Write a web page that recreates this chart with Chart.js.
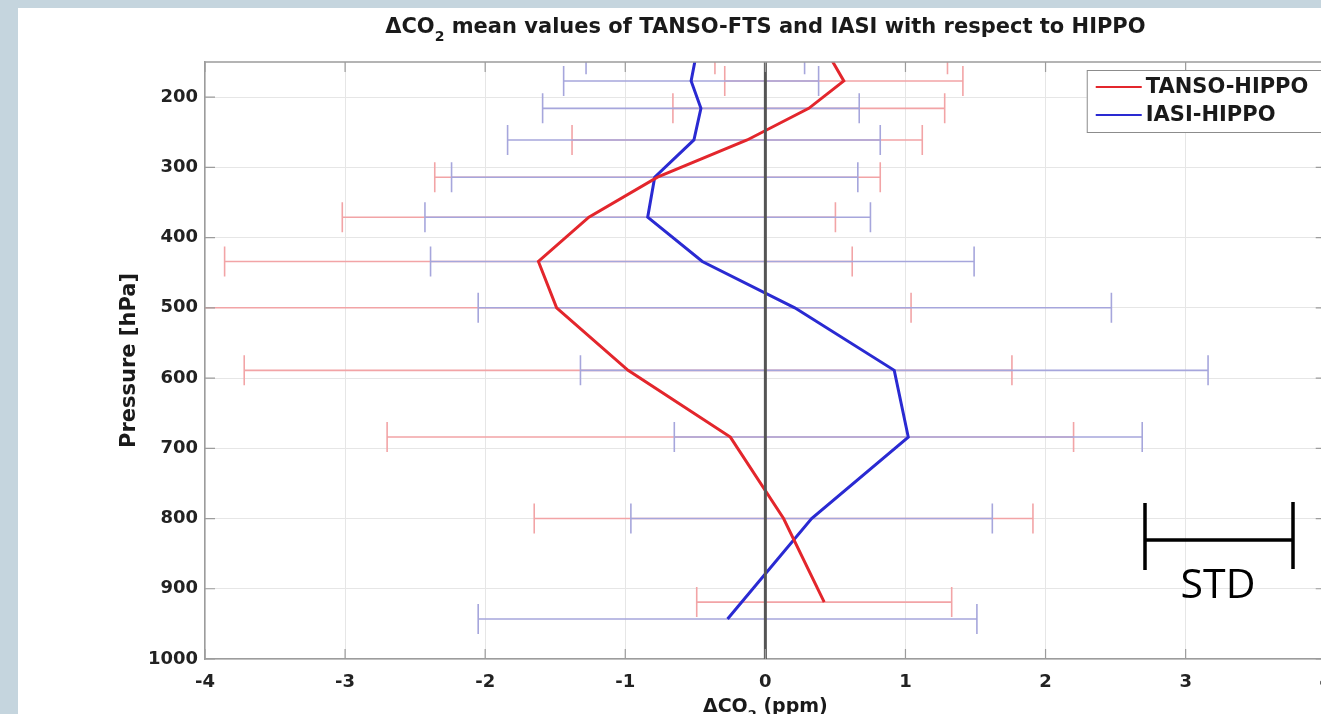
<!DOCTYPE html>
<html><head><meta charset="utf-8">
<script src="https://cdn.jsdelivr.net/npm/chart.js@4/dist/chart.umd.min.js"></script>
<style>
html,body{margin:0;padding:0;overflow:hidden;width:1321px;height:714px;background:#c5d5de}
canvas{position:absolute;left:0;top:0}
</style>
</head><body>
<canvas id="c" width="1345" height="714"></canvas>
<script>
// ---- data ----
const seriesNames = ['TANSO-HIPPO', 'IASI-HIPPO'];
const tansoPressure = [146, 177, 216, 261, 314, 371, 434, 500, 589, 684, 800, 919];
const tansoMean     = [0.47, 0.56, 0.31, -0.13, -0.77, -1.26, -1.62, -1.49, -0.98, -0.25, 0.13, 0.42];
const tansoStd      = [0.83, 0.85, 0.97, 1.25, 1.59, 1.76, 2.24, 2.53, 2.74, 2.45, 1.78, 0.91];
const iasiPressure  = [146, 177, 216, 261, 314, 371, 434, 500, 589, 684, 800, 943];
const iasiMean      = [-0.50, -0.53, -0.46, -0.51, -0.79, -0.84, -0.45, 0.21, 0.92, 1.02, 0.33, -0.27];
const iasiStd       = [0.78, 0.91, 1.13, 1.33, 1.45, 1.59, 1.94, 2.26, 2.24, 1.67, 1.29, 1.78];
const zeroLineX     = [0, 0];
const zeroLineP     = [150, 1000];
const xTicks = [-4, -3, -2, -1, 0, 1, 2, 3, 4];
const yTicks = [200, 300, 400, 500, 600, 700, 800, 900, 1000];
const titleMain = 'ΔCO';
const titleSub = '2';
const titleRest = ' mean values of TANSO-FTS and IASI with respect to HIPPO';
const xTitleMain = 'ΔCO';
const xTitleSub = '2';
const xTitleRest = ' (ppm)';
const yTitle = 'Pressure [hPa]';
const stdLabel = 'STD';

const RED = '#e3262c', BLUE = '#2a2ad2';
const RED_BAR = '#f2a4a6', BLUE_BAR = '#a6a6dc';

const bgPlugin = {
  id: 'bg',
  beforeDraw(chart) {
    const c = chart.ctx;
    c.save();
    c.fillStyle = '#c5d5de';
    c.fillRect(0, 0, chart.width, chart.height);
    c.fillStyle = '#ffffff';
    c.fillRect(18, 8, chart.width - 18, chart.height - 8);
    c.restore();
  }
};

const errPlugin = {
  id: 'errbars',
  beforeDatasetsDraw(chart) {
    const c = chart.ctx, xs = chart.scales.x, ys = chart.scales.y, ca = chart.chartArea;
    c.save();
    c.beginPath();
    c.rect(ca.left, ca.top, ca.right - ca.left, ca.bottom - ca.top);
    c.clip();
    const draw = (P, M, S, col) => {
      c.strokeStyle = col;
      c.lineWidth = 1.6;
      for (let i = 0; i < P.length; i++) {
        const y = ys.getPixelForValue(P[i]);
        const x1 = xs.getPixelForValue(M[i] - S[i]);
        const x2 = xs.getPixelForValue(M[i] + S[i]);
        c.beginPath();
        c.moveTo(x1, y); c.lineTo(x2, y);
        c.moveTo(x1, y - 15); c.lineTo(x1, y + 15);
        c.moveTo(x2, y - 15); c.lineTo(x2, y + 15);
        c.stroke();
      }
    };
    draw(tansoPressure, tansoMean, tansoStd, RED_BAR);
    draw(iasiPressure, iasiMean, iasiStd, BLUE_BAR);
    c.restore();
  }
};

const decorPlugin = {
  id: 'decor',
  afterDraw(chart) {
    const c = chart.ctx, xs = chart.scales.x, ys = chart.scales.y, ca = chart.chartArea;
    const cx = (ca.left + ca.right) / 2;
    c.save();
    // top/right axis lines and inward ticks
    c.strokeStyle = '#9c9c9c';
    c.lineWidth = 1.5;
    c.beginPath();
    c.moveTo(ca.left, ca.top); c.lineTo(ca.right, ca.top);
    c.moveTo(ca.right, ca.top); c.lineTo(ca.right, ca.bottom);
    c.stroke();
    c.lineWidth = 1.2;
    c.beginPath();
    xTicks.forEach(v => {
      const x = xs.getPixelForValue(v);
      c.moveTo(x, ca.bottom); c.lineTo(x, ca.bottom - 10);
      c.moveTo(x, ca.top); c.lineTo(x, ca.top + 10);
    });
    yTicks.forEach(v => {
      const y = ys.getPixelForValue(v);
      c.moveTo(ca.left, y); c.lineTo(ca.left + 10, y);
      c.moveTo(ca.right, y); c.lineTo(ca.right - 10, y);
    });
    c.stroke();

    // title
    c.fillStyle = '#1a1a1a';
    c.textBaseline = 'alphabetic';
    const fMain = 'bold 21px "DejaVu Sans"', fSub = 'bold 14px "DejaVu Sans"';
    c.font = fMain; const w1 = c.measureText(titleMain).width, w3 = c.measureText(titleRest).width;
    c.font = fSub; const w2 = c.measureText(titleSub).width;
    let x0 = cx - (w1 + w2 + w3) / 2;
    c.textAlign = 'left';
    c.font = fMain; c.fillText(titleMain, x0, 33);
    c.font = fSub; c.fillText(titleSub, x0 + w1, 41);
    c.font = fMain; c.fillText(titleRest, x0 + w1 + w2, 33);

    // x axis title
    const fx = 'bold 19px "DejaVu Sans"', fxs = 'bold 13px "DejaVu Sans"';
    c.font = fx; const a1 = c.measureText(xTitleMain).width, a3 = c.measureText(xTitleRest).width;
    c.font = fxs; const a2 = c.measureText(xTitleSub).width;
    x0 = cx - (a1 + a2 + a3) / 2;
    c.font = fx; c.fillText(xTitleMain, x0, 712);
    c.font = fxs; c.fillText(xTitleSub, x0 + a1, 719);
    c.font = fx; c.fillText(xTitleRest, x0 + a1 + a2, 712);

    // y axis title
    c.save();
    c.translate(130, (ca.top + ca.bottom) / 2);
    c.rotate(-Math.PI / 2);
    c.textAlign = 'center';
    c.textBaseline = 'middle';
    c.font = 'bold 21px "DejaVu Sans"';
    c.fillText(yTitle, 0, 0);
    c.restore();

    // legend
    const lx = ca.right - 239, ly = ca.top + 8;
    c.fillStyle = '#ffffff';
    c.fillRect(lx, ly, 300, 62);
    c.strokeStyle = '#8c8c8c';
    c.lineWidth = 1;
    c.strokeRect(lx + 0.5, ly + 0.5, 300, 62);
    const legendSets = [chart.data.datasets[1], chart.data.datasets[2]];
    legendSets.forEach((ds, i) => {
      const yy = ly + 17 + i * 28;
      c.strokeStyle = ds.borderColor;
      c.lineWidth = 2;
      c.beginPath(); c.moveTo(lx + 9, yy); c.lineTo(lx + 55, yy); c.stroke();
      c.fillStyle = '#1a1a1a';
      c.font = 'bold 21px "DejaVu Sans"';
      c.textAlign = 'left';
      c.textBaseline = 'middle';
      c.fillText(ds.label, lx + 59, yy + 1);
    });

    // STD annotation
    c.strokeStyle = '#000000';
    c.lineWidth = 3.5;
    c.beginPath();
    c.moveTo(1145, 503); c.lineTo(1145, 570);
    c.moveTo(1293, 502); c.lineTo(1293, 569);
    c.moveTo(1145, 540); c.lineTo(1293, 540);
    c.stroke();
    c.fillStyle = '#000000';
    c.font = '41px "Open Sans"';
    c.textAlign = 'center';
    c.textBaseline = 'alphabetic';
    c.fillText(stdLabel, 1218, 598);
    c.restore();
  }
};

const tickFont = {family: 'DejaVu Sans', weight: 'bold', size: 18};

new Chart(document.getElementById('c'), {
  type: 'scatter',
  data: {
    datasets: [
      {label: 'zero', data: zeroLineX.map((v, i) => ({x: v, y: zeroLineP[i]})), showLine: true,
       borderColor: '#555555', borderWidth: 3, pointRadius: 0},
      {label: seriesNames[0], data: tansoMean.map((v, i) => ({x: v, y: tansoPressure[i]})), showLine: true,
       borderColor: RED, borderWidth: 3, pointRadius: 0, tension: 0},
      {label: seriesNames[1], data: iasiMean.map((v, i) => ({x: v, y: iasiPressure[i]})), showLine: true,
       borderColor: BLUE, borderWidth: 3, pointRadius: 0, tension: 0}
    ]
  },
  options: {
    responsive: false,
    animation: false,
    devicePixelRatio: 1,
    layout: {padding: {top: 62, right: 18, left: 0, bottom: 0}},
    scales: {
      x: {
        type: 'linear', min: -4, max: 4,
        afterBuildTicks: s => { s.ticks = xTicks.map(v => ({value: v})); },
        afterFit: s => { s.height = 55; },
        grid: {color: '#e6e6e6', lineWidth: 1, drawTicks: false},
        border: {color: '#9c9c9c', width: 1.5},
        ticks: {padding: 13, font: tickFont, color: '#222222', callback: v => String(v), maxRotation: 0, autoSkip: false}
      },
      y: {
        type: 'linear', reverse: true, min: 150, max: 1000,
        afterBuildTicks: s => { s.ticks = yTicks.map(v => ({value: v})); },
        afterFit: s => { s.width = 205; },
        grid: {color: '#e6e6e6', lineWidth: 1, drawTicks: false},
        border: {color: '#9c9c9c', width: 1.5},
        ticks: {padding: 7, font: tickFont, color: '#222222', callback: v => String(v), autoSkip: false}
      }
    },
    plugins: {legend: {display: false}, tooltip: {enabled: false}, title: {display: false}}
  },
  plugins: [bgPlugin, errPlugin, decorPlugin]
});
</script>
</body></html>
